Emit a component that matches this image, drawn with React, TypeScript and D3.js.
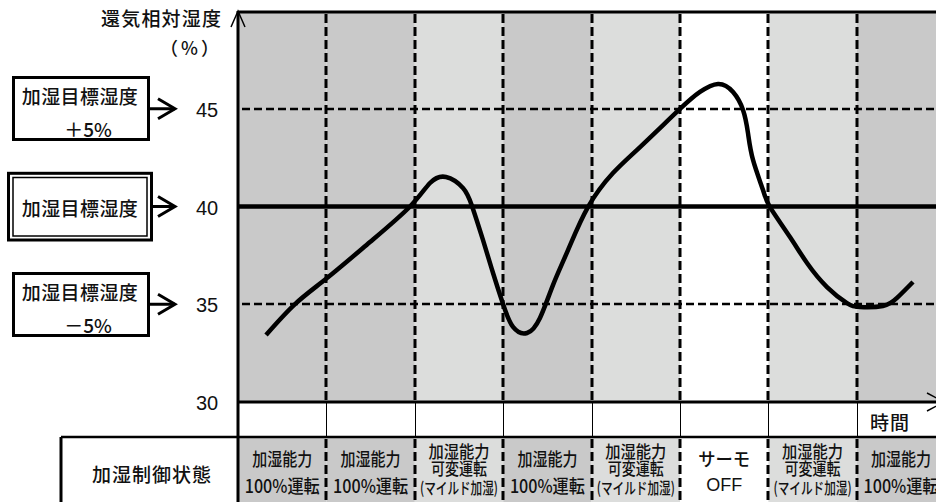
import React from "react";
import * as d3 from "d3";

const columnShades = ["#c9c9c9", "#c9c9c9", "#dcdddc", "#c9c9c9", "#dcdddc", "#ffffff", "#dcdddc", "#c9c9c9"];
const stateLabels: string[][] = [
  ["加湿能力", "100%運転"],
  ["加湿能力", "100%運転"],
  ["加湿能力", "可変運転", "(マイルド加湿)"],
  ["加湿能力", "100%運転"],
  ["加湿能力", "可変運転", "(マイルド加湿)"],
  ["サーモ", "OFF"],
  ["加湿能力", "可変運転", "(マイルド加湿)"],
  ["加湿能力", "100%運転"],
];
const yTicks = [30, 35, 40, 45];
const dashedLevels = [45, 35];
const targetLevel = 40;
const curveT = [0.317, 0.645, 1.007, 1.493, 1.946, 2.172, 2.353, 2.545, 2.647, 2.771, 2.885, 2.998, 3.111, 3.27, 3.416, 3.563, 3.733, 3.959, 4.242, 4.548, 5.0, 5.226, 5.43, 5.6, 5.713, 5.769, 5.826, 5.939, 6.018, 6.244, 6.437, 6.663, 6.889, 7.036, 7.296, 7.455, 7.636];
const curveV = [33.43, 35.01, 36.34, 38.18, 40.0, 41.2, 41.51, 40.95, 40.03, 38.29, 36.6, 35.01, 33.84, 33.53, 34.3, 35.98, 37.77, 39.97, 41.71, 43.04, 44.99, 45.86, 46.27, 45.86, 44.94, 43.76, 42.38, 40.84, 39.97, 38.44, 37.11, 35.88, 35.06, 34.86, 34.91, 35.32, 36.14];

const W = 936, H = 502;
const x0 = 238, colW = 88.4;
const plotTop = 11, plotBottom = 402, tableTop = 437;

const jp = "'Noto Sans CJK JP', 'Noto Sans', sans-serif";
const num = "'Liberation Sans', Arial, sans-serif";

export default function App() {
  const x = d3.scaleLinear().domain([0, 8]).range([x0, x0 + 8 * colW]);
  const y = d3.scaleLinear().domain([30, 50]).range([plotBottom, plotTop]);
  const pts: [number, number][] = curveT.map((t, i) => [x(t), y(curveV[i])]);
  const line = d3.line().curve(d3.curveNatural)(pts) || "";
  const cols = d3.range(8);
  const txtColor = "#111";
  const fw = 500;

  const boxArrow = (yy: number, key: string) => (
    <g key={key} stroke="#000" strokeWidth={3} fill="none">
      <line x1={150} y1={yy} x2={175} y2={yy} />
      <polyline points={`158,${yy - 10} 175,${yy} 158,${yy + 10}`} />
    </g>
  );

  return (
    <svg width={W} height={H} style={{ position: "absolute", left: 0, top: 0, background: "#fff" }}>
      {cols.map((i) => (
        <rect key={"p" + i} x={x(i)} y={12} width={colW} height={plotBottom - 12} fill={columnShades[i]} />
      ))}
      {cols.map((i) => (
        <rect key={"s" + i} x={x(i)} y={tableTop} width={colW} height={H - tableTop} fill={columnShades[i]} />
      ))}
      {dashedLevels.map((v) => (
        <line key={"h" + v} x1={x0 + 4} x2={W} y1={Math.round(y(v))} y2={Math.round(y(v))} stroke="#000" strokeWidth={2.6} strokeDasharray="8,4" />
      ))}
      {cols.slice(1).map((i) => {
        const xx = Math.round(x(i));
        return (
          <g key={"v" + i}>
            <line x1={xx} x2={xx} y1={14} y2={plotBottom} stroke="#000" strokeWidth={3} strokeDasharray="9,4" />
            <line x1={xx + 0.5} x2={xx + 0.5} y1={plotBottom} y2={tableTop} stroke="#000" strokeWidth={1} />
            <line x1={xx} x2={xx} y1={tableTop + 2} y2={H} stroke="#000" strokeWidth={3} strokeDasharray="9,4" />
          </g>
        );
      })}
      <line x1={x0} x2={W} y1={y(targetLevel)} y2={y(targetLevel)} stroke="#000" strokeWidth={4.5} />
      <path d={line} fill="none" stroke="#000" strokeWidth={4.5} strokeLinejoin="round" />
      <line x1={x0} x2={W} y1={12} y2={12} stroke="#000" strokeWidth={3} />
      <line x1={x0} x2={W} y1={plotBottom} y2={plotBottom} stroke="#000" strokeWidth={3} />
      <line x1={61} x2={W} y1={tableTop} y2={tableTop} stroke="#000" strokeWidth={2.5} />
      <line x1={61} x2={61} y1={tableTop} y2={H} stroke="#000" strokeWidth={3} />
      <line x1={x0} x2={x0} y1={11} y2={H} stroke="#000" strokeWidth={3} />
      <polyline points="231,27 238,11 245,27" fill="none" stroke="#000" strokeWidth={1.5} />
      <polyline points="927,393 944,402 927,411" fill="none" stroke="#000" strokeWidth={1.5} />
      <text x={101} y={17} fontFamily={jp} fontWeight={fw} fontSize={19} letterSpacing={1.2} dominantBaseline="central" fill={txtColor}>還気相対湿度</text>
      <text x={191} y={47} fontFamily={jp} fontWeight={fw} fontSize={18} letterSpacing={3} textAnchor="middle" dominantBaseline="central" fill={txtColor}>（%）</text>
      {yTicks.map((v) => (
        <text key={"t" + v} x={207} y={y(v) + 1} fontFamily={num} fontSize={20} textAnchor="middle" dominantBaseline="central" fill={txtColor}>{v}</text>
      ))}
      <rect x={13.5} y={77.5} width={135} height={62} fill="#fff" stroke="#000" strokeWidth={3} />
      <text x={80} y={95} fontFamily={jp} fontWeight={fw} fontSize={19} letterSpacing={0.4} textAnchor="middle" dominantBaseline="central" fill={txtColor}>加湿目標湿度</text>
      <text x={88} y={128} fontFamily={jp} fontWeight={fw} fontSize={19} textAnchor="middle" dominantBaseline="central" fill={txtColor}>＋5%</text>
      {boxArrow(y(45), "a45")}

      <rect x={8.5} y={173.3} width={143} height={66.7} fill="#fff" stroke="#000" strokeWidth={3} />
      <rect x={13} y={177.5} width={134} height={58.5} fill="none" stroke="#000" strokeWidth={1.5} />
      <text x={80} y={207} fontFamily={jp} fontWeight={fw} fontSize={19} letterSpacing={0.4} textAnchor="middle" dominantBaseline="central" fill={txtColor}>加湿目標湿度</text>
      {boxArrow(y(40), "a40")}

      <rect x={13.5} y={273.5} width={135} height={62} fill="#fff" stroke="#000" strokeWidth={3} />
      <text x={80} y={291} fontFamily={jp} fontWeight={fw} fontSize={19} letterSpacing={0.4} textAnchor="middle" dominantBaseline="central" fill={txtColor}>加湿目標湿度</text>
      <text x={88} y={324} fontFamily={jp} fontWeight={fw} fontSize={19} textAnchor="middle" dominantBaseline="central" fill={txtColor}>－5%</text>
      {boxArrow(y(35), "a35")}

      <text x={890} y={421.5} fontFamily={jp} fontWeight={fw} fontSize={19} letterSpacing={1} textAnchor="middle" dominantBaseline="central" fill={txtColor}>時間</text>
      <text x={152} y={473.5} fontFamily={jp} fontWeight={fw} fontSize={19} letterSpacing={1} textAnchor="middle" dominantBaseline="central" fill={txtColor}>加湿制御状態</text>
      {stateLabels.map((lines, i) => {
        const cx = x(i) + colW / 2;
        if (lines.length === 2) {
          const thermo = lines[0] === "サーモ";
          const ws = thermo ? [52, 36] : [60, 75];
          return (
            <g key={"st" + i} fill={txtColor} fontWeight={fw}>
              <text x={cx} y={458} fontFamily={jp} fontSize={18} textAnchor="middle" dominantBaseline="central" textLength={ws[0]} lengthAdjust="spacingAndGlyphs">{lines[0]}</text>
              <text x={cx} y={484.5} fontFamily={thermo ? num : jp} fontSize={18} textAnchor="middle" dominantBaseline="central" textLength={ws[1]} lengthAdjust="spacingAndGlyphs">{lines[1]}</text>
            </g>
          );
        }
        return (
          <g key={"st" + i} fill={txtColor} fontWeight={fw}>
            <text x={cx} y={450} fontFamily={jp} fontSize={17} textAnchor="middle" dominantBaseline="central" textLength={61} lengthAdjust="spacingAndGlyphs">{lines[0]}</text>
            <text x={cx} y={467.5} fontFamily={jp} fontSize={17} textAnchor="middle" dominantBaseline="central" textLength={56} lengthAdjust="spacingAndGlyphs">{lines[1]}</text>
            <text x={cx} y={487} fontFamily={jp} fontSize={16} textAnchor="middle" dominantBaseline="central" textLength={78} lengthAdjust="spacingAndGlyphs">{lines[2]}</text>
          </g>
        );
      })}
    </svg>
  );
}
